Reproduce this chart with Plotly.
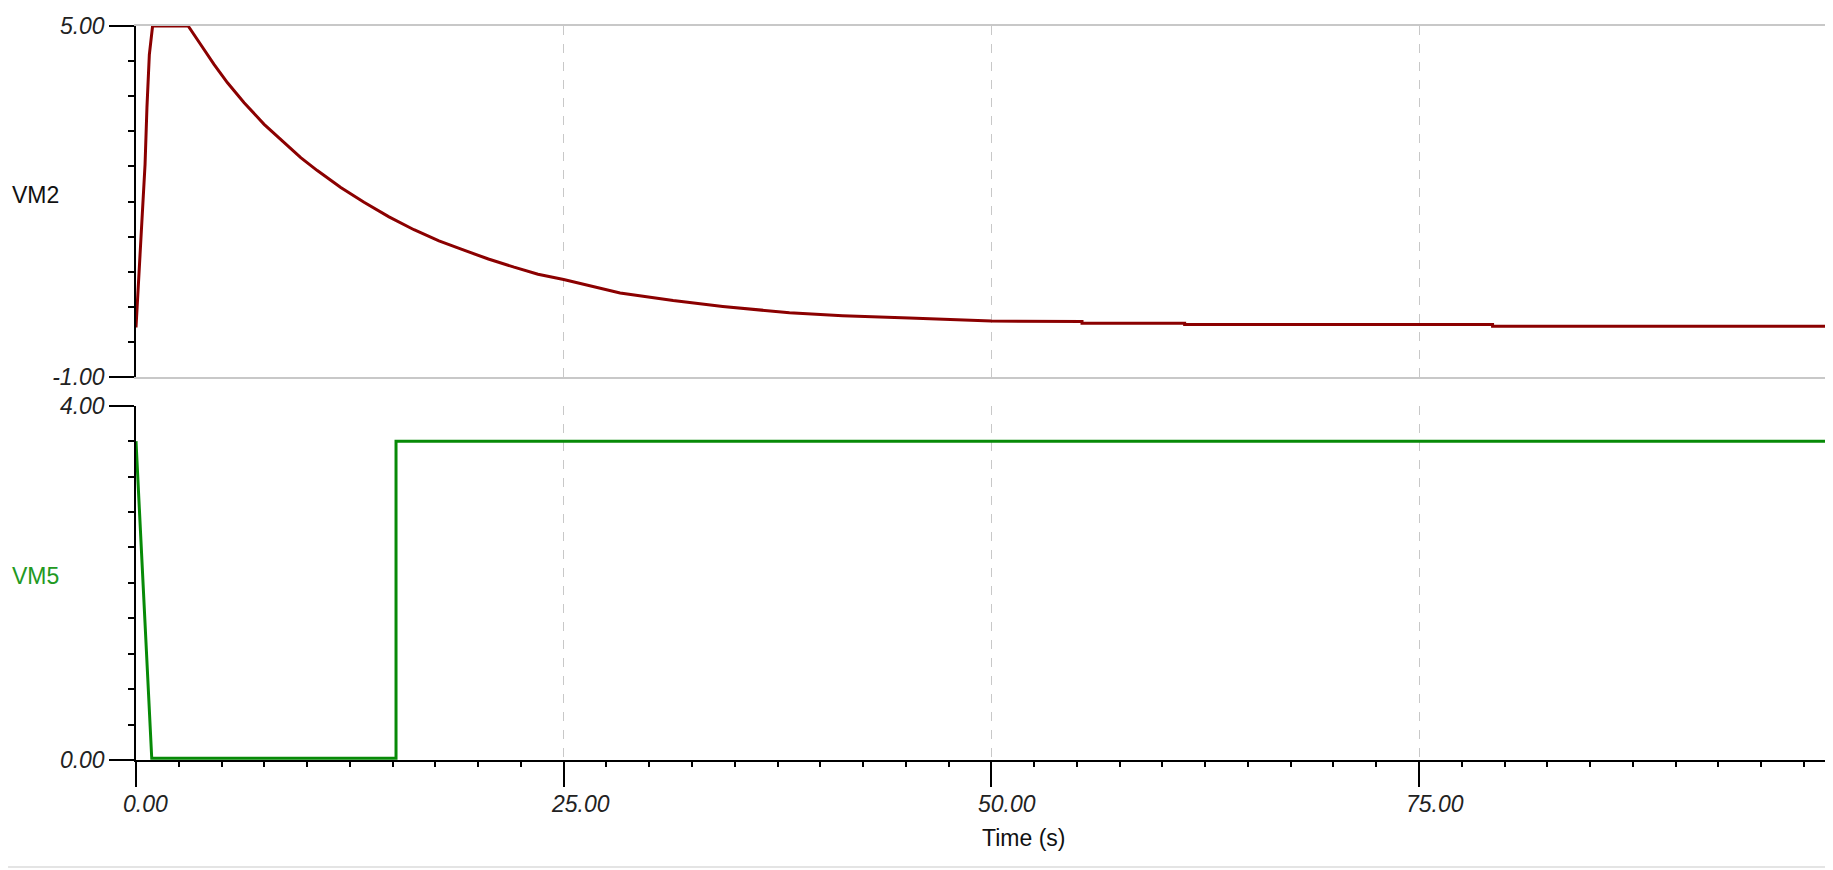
import plotly.graph_objects as go

# ---------------- data ----------------
time_vm2 = [0, 0.19, 0.39, 0.53, 0.64, 0.78, 0.97, 3.05, 3.79, 4.57, 5.35, 6.32, 7.49,
            8.66, 9.63, 10.6, 11.97, 13.33, 14.79, 16.25, 17.71, 19.17, 20.6, 22.1,
            23.5, 25.0, 28.3, 31.4, 34.3, 38.2, 41.3, 45.2, 50.0,
            55.3, 55.3, 61.3, 61.3, 79.3, 79.3, 99.2]
vm2 = [-0.15, 0.79, 1.76, 2.64, 3.61, 4.51, 5.0, 5.0, 4.68, 4.34, 4.03, 3.69, 3.32,
       3.01, 2.75, 2.53, 2.24, 1.99, 1.74, 1.52, 1.33, 1.17, 1.02, 0.88,
       0.76, 0.67, 0.44, 0.31, 0.21, 0.10, 0.05, 0.01, -0.04,
       -0.05, -0.08, -0.08, -0.10, -0.10, -0.13, -0.13]

time_vm5 = [0, 0.92, 15.2, 15.2, 99.2]
vm5 = [3.6, 0.02, 0.02, 3.6, 3.6]

x_major = [0, 25, 50, 75]
x_medium = [12.5, 37.5, 62.5, 87.5]
x_grid = [25, 50, 75]
vm2_ticks = [-1, 5]
vm5_ticks = [0, 4]
x_range = [0, 99.2]

# ---------------- style ----------------
RED = "#8b0000"
GREEN = "#078a07"
GRID = "#c8c8c8"
FONT = "Liberation Sans"
tickfont = dict(family=FONT, size=23, color="#222222", style="italic")

fig = go.Figure()
fig.add_trace(go.Scatter(x=time_vm2, y=vm2, mode="lines", xaxis="x", yaxis="y",
                         line=dict(color=RED, width=3), showlegend=False, hoverinfo="skip"))
fig.add_trace(go.Scatter(x=time_vm5, y=vm5, mode="lines", xaxis="x2", yaxis="y2",
                         line=dict(color=GREEN, width=3), showlegend=False, hoverinfo="skip"))

top_dom = [0.5215, 1.0]
bot_dom = [0.0, 0.4826]

fig.update_layout(
    width=1825, height=862,
    margin=dict(l=128, r=0, t=18, b=110, autoexpand=False),
    paper_bgcolor="white", plot_bgcolor="white",
    # top panel
    xaxis=dict(domain=[0, 1], anchor="y", range=x_range, tickvals=x_grid,
               showticklabels=False, ticks="", showgrid=True, gridcolor=GRID,
               griddash="dash", gridwidth=1.2, showline=True, mirror=True,
               linecolor=GRID, linewidth=1.5, zeroline=False, automargin=False),
    yaxis=dict(domain=top_dom, anchor="x", range=[-1, 5], tickvals=vm2_ticks,
               ticktext=[f"{v:.2f}" for v in vm2_ticks], ticks="outside", ticklen=25,
               tickcolor="black", tickwidth=1.5, tickfont=tickfont, showline=True,
               linecolor="black", linewidth=1.5, showgrid=False, zeroline=False,
               automargin=False,
               minor=dict(ticks="outside", tick0=-1, dtick=0.6, ticklen=6,
                          tickcolor="black", tickwidth=1.5, showgrid=False)),
    yaxis3=dict(overlaying="y", anchor="x", range=[-1, 5], tickvals=[2], ticks="outside",
                ticklen=11, tickcolor="black", tickwidth=1.5, showticklabels=False,
                showgrid=False, zeroline=False, showline=False, automargin=False),
    # bottom panel
    xaxis2=dict(domain=[0, 1], anchor="y2", range=x_range, matches="x", tickvals=x_major,
                showticklabels=False, ticks="outside", ticklen=25, tickcolor="black",
                tickwidth=1.5, showgrid=True, gridcolor=GRID, griddash="dash",
                gridwidth=1.2, showline=True, linecolor="black", linewidth=1.5,
                zeroline=False, automargin=False,
                minor=dict(ticks="outside", tick0=0, dtick=2.5, ticklen=5,
                           tickcolor="black", tickwidth=1.5, showgrid=False)),
    xaxis3=dict(overlaying="x2", anchor="y2", range=x_range, tickvals=x_medium,
                ticks="outside", ticklen=13, tickcolor="black", tickwidth=1.5,
                showticklabels=False, showgrid=False, zeroline=False, showline=False,
                automargin=False),
    xaxis4=dict(overlaying="x2", anchor="y2", side="top", range=x_range, ticks="",
                showticklabels=False, showgrid=False, zeroline=False, showline=True,
                linecolor=GRID, linewidth=1.5, automargin=False),
    yaxis2=dict(domain=bot_dom, anchor="x2", range=[0, 4], tickvals=vm5_ticks,
                ticktext=[f"{v:.2f}" for v in vm5_ticks], ticks="outside", ticklen=25,
                tickcolor="black", tickwidth=1.5, tickfont=tickfont, showline=True,
                linecolor="black", linewidth=1.5, showgrid=False, zeroline=False,
                automargin=False,
                minor=dict(ticks="outside", tick0=0, dtick=0.4, ticklen=6,
                           tickcolor="black", tickwidth=1.5, showgrid=False)),
    yaxis4=dict(overlaying="y2", anchor="x2", range=[0, 4], tickvals=[2], ticks="outside",
                ticklen=11, tickcolor="black", tickwidth=1.5, showticklabels=False,
                showgrid=False, zeroline=False, showline=False, automargin=False),
)

annotations = []
# x tick labels (left anchored, as in the reference)
for v in x_major:
    annotations.append(dict(x=v, xref="x2", y=0, yref="paper", text=f"{v:.2f}",
                            showarrow=False, xanchor="left", yanchor="middle",
                            xshift=-15, yshift=-44, font=tickfont))
# axis title
annotations.append(dict(x=0.523, xref="paper", y=0, yref="paper", text="Time (s)",
                        showarrow=False, xanchor="center", yanchor="middle", yshift=-78,
                        font=dict(family=FONT, size=23, color="#111111")))
# series labels
annotations.append(dict(x=0, xref="paper", y=0.5, yref="y domain", text="VM2",
                        showarrow=False, xanchor="left", yanchor="middle", xshift=-126,
                        yshift=7, font=dict(family=FONT, size=23, color="#111111")))
annotations.append(dict(x=0, xref="paper", y=0.5, yref="y2 domain", text="VM5",
                        showarrow=False, xanchor="left", yanchor="middle", xshift=-126,
                        yshift=7, font=dict(family=FONT, size=23, color="#229922")))
fig.update_layout(annotations=annotations)

# faint bottom border line
fig.add_shape(type="line", xref="paper", yref="paper", x0=-0.0754, x1=1.0,
              y0=-0.1458, y1=-0.1458, line=dict(color="#e4e4e4", width=2))

fig.write_html("out.html")
